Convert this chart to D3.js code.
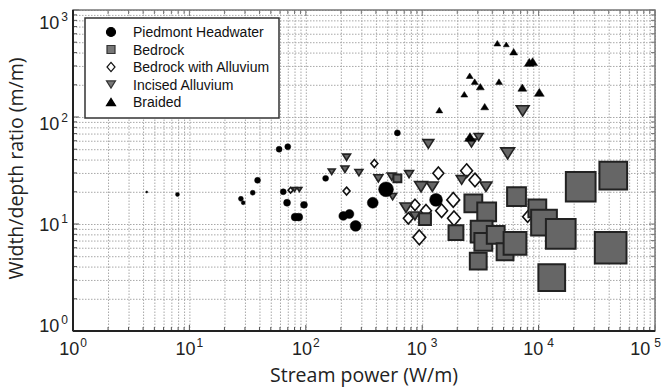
<!DOCTYPE html>
<html>
<head>
<meta charset="utf-8">
<script src="https://d3js.org/d3.v7.min.js"></script>
<style>
  body { margin: 0; background: #fff; }
  .grid line { stroke: #a8a8a8; stroke-width: 1; stroke-dasharray: 1.5,1.5; }
  .grid path { display: none; }
  .ticklbl { font-family: "Liberation Sans", Arial, sans-serif; fill: #222; }
  .title { font-family: "Open Sans", sans-serif; font-size: 19.5px; fill: #222; }
  .legend text { font-family: "Liberation Sans", Arial, sans-serif; font-size: 14px; fill: #111; }
</style>
</head>
<body>
<div id="chart"></div>
<script>
// data (x = stream power W/m, y = width/depth, w = relative marker size)
var piedmontX = [4.3, 7.9, 27.7, 29, 35, 38.5, 59, 70, 64, 69, 81, 87, 96.5, 148, 210, 237, 268, 376, 489, 612, 1315];
var piedmontY = [19.9, 18.9, 17.2, 15.8, 19.6, 25.6, 50, 52.8, 20, 15.8, 11.6, 11.6, 15.1, 26.7, 11.9, 12.4, 9.6, 15.8, 21.1, 71, 16.8];
var piedmontW = [6, 12, 15, 12, 15, 18, 18, 18, 18, 21, 24, 24, 21, 18, 27, 27, 33, 33, 45, 18, 39];

var bedrockX = [612, 1057, 1950, 2750, 3580, 3240, 3350, 3030, 4280, 5150, 6270, 6460, 9750, 11130, 15500, 12970, 23000, 43800, 41600];
var bedrockY = [26.7, 11.1, 8.3, 15.6, 13, 8.5, 6.8, 4.5, 7.9, 5.5, 6.6, 18, 14, 10.3, 8.07, 3.15, 22.3, 28.3, 6.0];
var bedrockW = [24, 36, 45, 54, 57, 66, 54, 51, 54, 51, 69, 57, 54, 78, 90, 81, 90, 84, 96];

var bwaX = [74, 224, 388, 867, 760, 1078, 1377, 1468, 1848, 1875, 944, 2407, 2840, 8050];
var bwaY = [20.7, 20.3, 36.8, 15.1, 11.3, 13.3, 29.8, 13.3, 16.8, 11.3, 7.5, 31.5, 25.8, 11.7];
var bwaW = [15, 21, 21, 30, 30, 33, 33, 36, 39, 39, 39, 36, 36, 30];

var incisedX = [80, 88, 167, 217, 224, 286, 420, 547, 557, 771, 977, 1222, 726, 867, 1129, 2183, 3530, 2650, 3055, 5420, 7300];
var incisedY = [21, 21, 30.8, 32.5, 42, 30.2, 26.7, 27.7, 18, 29.2, 22.3, 22.3, 14.2, 11.9, 56, 25.8, 22.3, 57, 65, 45.7, 114];
var incisedW = [15, 15, 21, 24, 24, 24, 27, 27, 24, 27, 39, 36, 36, 30, 33, 33, 36, 30, 27, 42, 39];

var braidedX = [1403, 2300, 2560, 2826, 3157, 3443, 4567, 4420, 5278, 6105, 8317, 8890, 7248, 10140, 2574];
var braidedY = [116, 163, 243, 214, 192, 125, 214, 489, 477, 407, 324, 329, 188, 170, 65];
var braidedW = [21, 21, 21, 21, 24, 24, 21, 21, 18, 24, 30, 30, 27, 30, 33];

var legendLabels = ["Piedmont Headwater", "Bedrock", "Bedrock with Alluvium", "Incised Alluvium", "Braided"];
var xTickExp = [0, 1, 2, 3, 4, 5];
var yTickExp = [0, 1, 2, 3];

var width = 662, height = 389;
var margin = {top: 10, right: 7, bottom: 58, left: 73};
var w = width - margin.left - margin.right;
var h = height - margin.top - margin.bottom;

var svg = d3.select("#chart").append("svg")
    .attr("width", width).attr("height", height);
var g = svg.append("g").attr("transform", "translate(" + margin.left + "," + margin.top + ")");

var x = d3.scaleLog().domain([1, 1e5]).range([0, w]);
var y = d3.scaleLog().domain([1, 1e3]).range([h, 0]);
// the y tick labels in the picture sit on a slightly compressed spacing
var yLbl = d3.scaleLog().domain([1, 1e3]).range([h + 1, 19]);
var size = d3.scaleLinear().domain([0, 100]).range([0, 33]);

// all decade + minor ticks
function logTicks(lo, hi) {
  var t = [];
  for (var e = lo; e < hi; e++) for (var m = 1; m < 10; m++) t.push(m * Math.pow(10, e));
  t.push(Math.pow(10, hi));
  return t;
}
var xt = logTicks(0, 5), yt = logTicks(0, 3);

g.append("g").attr("class", "grid")
  .attr("transform", "translate(0," + h + ")")
  .call(d3.axisBottom(x).tickValues(xt).tickSize(-h).tickFormat(""));
g.append("g").attr("class", "grid")
  .call(d3.axisLeft(y).tickValues(yt).tickSize(-w).tickFormat(""));

// small inward ticks on all sides
function inTicks(vals, scale, horiz) {
  vals.forEach(function(v) {
    var major = Math.abs(Math.log10(v) - Math.round(Math.log10(v))) < 1e-9;
    var len = major ? 6 : 4;
    if (horiz) {
      g.append("line").attr("x1", scale(v)).attr("x2", scale(v)).attr("y1", h).attr("y2", h - len).attr("stroke", "#555");
      g.append("line").attr("x1", scale(v)).attr("x2", scale(v)).attr("y1", 0).attr("y2", len).attr("stroke", "#777");
    } else {
      g.append("line").attr("y1", scale(v)).attr("y2", scale(v)).attr("x1", 0).attr("x2", len).attr("stroke", "#555");
      g.append("line").attr("y1", scale(v)).attr("y2", scale(v)).attr("x1", w).attr("x2", w - len).attr("stroke", "#777");
    }
  });
}
inTicks(xt, x, true);
inTicks(yt, y, false);

// marker shapes, s = width in px
function shape(type, s) {
  var r = s / 2;
  if (type == "circle") return d3.symbol().type(d3.symbolCircle).size(Math.PI * r * r)();
  if (type == "square") return "M" + (-r) + "," + (-r) + "h" + s + "v" + s + "h" + (-s) + "Z";
  if (type == "diamond") { var hh = r * 1.15; return "M0," + (-hh) + "L" + r + ",0L0," + hh + "L" + (-r) + ",0Z"; }
  var th = s * 0.8;
  if (type == "down") return "M" + (-r) + "," + (-th / 2) + "L" + r + "," + (-th / 2) + "L0," + (th / 2) + "Z";
  return "M" + (-r) + "," + (th / 2) + "L" + r + "," + (th / 2) + "L0," + (-th / 2) + "Z";
}

var series = [
  {type: "diamond", xs: bwaX, ys: bwaY, ws: bwaW, fill: "#fff", stroke: "#111", sw: 1.6},
  {type: "down", xs: incisedX, ys: incisedY, ws: incisedW, fill: "#666", stroke: "#222", sw: 1.6},
  {type: "circle", xs: piedmontX, ys: piedmontY, ws: piedmontW, fill: "#000", stroke: "#000", sw: 0.5},
  {type: "square", xs: bedrockX, ys: bedrockY, ws: bedrockW, fill: "#666", stroke: "#222", sw: 2},
  {type: "up", xs: braidedX, ys: braidedY, ws: braidedW, fill: "#000", stroke: "#000", sw: 0.5}
];

series.forEach(function(s) {
  var pts = s.xs.map(function(v, i) { return {x: v, y: s.ys[i], w: s.ws[i]}; });
  g.append("g").selectAll("path").data(pts).enter().append("path")
    .attr("transform", function(d) { return "translate(" + x(d.x) + "," + y(d.y) + ")"; })
    .attr("d", function(d) { return shape(s.type, size(d.w)); })
    .attr("fill", s.fill).attr("stroke", s.stroke).attr("stroke-width", s.sw);
});

// frame
g.append("rect").attr("width", w).attr("height", h).attr("fill", "none").attr("stroke", "#777").attr("stroke-width", 1.5);
g.append("line").attr("x1", 0).attr("x2", 0).attr("y1", 0).attr("y2", h).attr("stroke", "#222").attr("stroke-width", 2);
g.append("line").attr("x1", 0).attr("x2", w).attr("y1", h).attr("y2", h).attr("stroke", "#222").attr("stroke-width", 2);

// tick labels 10^n (the last one is pulled in so it stays on the page)
xTickExp.forEach(function(e) {
  var last = e == xTickExp[xTickExp.length - 1];
  var t = g.append("text").attr("class", "ticklbl")
    .attr("x", last ? w + margin.right - 1 : x(Math.pow(10, e))).attr("y", h + 24)
    .attr("text-anchor", last ? "end" : "middle");
  t.append("tspan").style("font-size", "18px").text("10");
  t.append("tspan").style("font-size", "12px").attr("dy", -8).attr("dx", e >= 3 ? 4 : 1).text(e);
});
yTickExp.forEach(function(e) {
  var t = g.append("text").attr("class", "ticklbl")
    .attr("x", -5).attr("y", yLbl(Math.pow(10, e))).attr("text-anchor", "end");
  t.append("tspan").style("font-size", "18px").text("10");
  t.append("tspan").style("font-size", "12px").attr("dy", -8).attr("dx", 2).text(e);
});

// axis titles
svg.append("text").attr("class", "title")
  .attr("x", margin.left + w / 2).attr("y", 382).attr("text-anchor", "middle")
  .text("Stream power (W/m)");
svg.append("text").attr("class", "title")
  .attr("transform", "translate(23," + (margin.top + h / 2 - 2) + ") rotate(-90)")
  .attr("text-anchor", "middle")
  .text("Width/depth ratio (m/m)");

// legend
var leg = g.append("g").attr("class", "legend").attr("transform", "translate(12,8)");
leg.append("rect").attr("width", 194).attr("height", 100).attr("fill", "#fff").attr("stroke", "#333").attr("stroke-width", 1.5);
var legShapes = [
  {type: "circle", s: 9, fill: "#000", stroke: "#000"},
  {type: "square", s: 8, fill: "#777", stroke: "#333"},
  {type: "diamond", s: 8, fill: "#fff", stroke: "#111"},
  {type: "down", s: 9, fill: "#777", stroke: "#333"},
  {type: "up", s: 9, fill: "#000", stroke: "#000"}
];
legendLabels.forEach(function(lab, i) {
  var cy = 14 + i * 17.5;
  leg.append("path").attr("transform", "translate(26," + cy + ")")
    .attr("d", shape(legShapes[i].type, legShapes[i].s))
    .attr("fill", legShapes[i].fill).attr("stroke", legShapes[i].stroke).attr("stroke-width", 1.2);
  leg.append("text").attr("x", 48).attr("y", cy + 5).text(lab);
});
</script>
</body>
</html>
